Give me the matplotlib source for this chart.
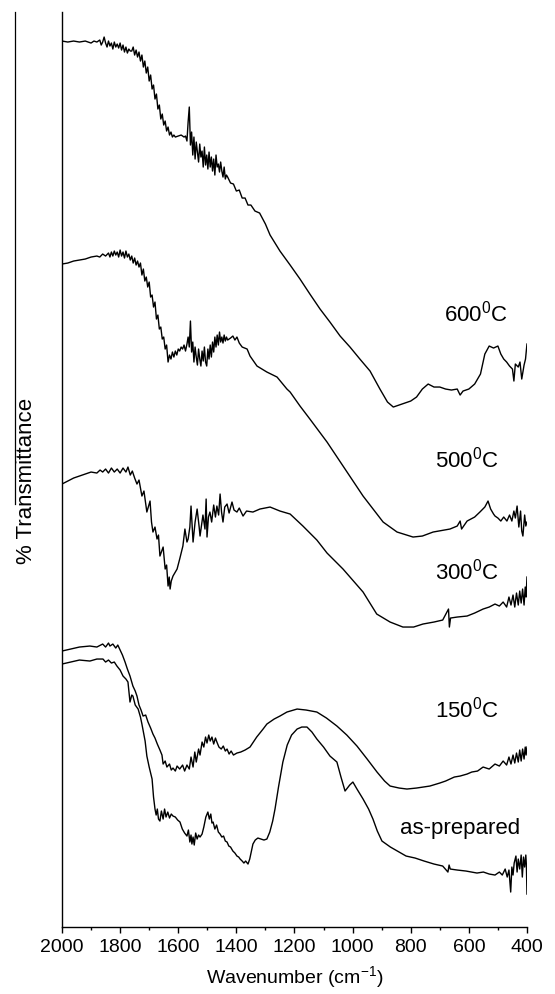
import numpy as np
import matplotlib
matplotlib.use("Agg")
import matplotlib.pyplot as plt
from matplotlib.lines import Line2D

plt.rcParams['font.family'] = ['Liberation Sans', 'DejaVu Sans']
plt.rcParams['mathtext.fontset'] = 'custom'
plt.rcParams['mathtext.rm'] = 'Liberation Sans'
plt.rcParams['mathtext.it'] = 'Liberation Sans'

# FTIR spectra, offset transmittance in arbitrary units
wn_600 = [2000, 1980, 1960, 1940, 1920, 1900, 1890, 1880, 1870, 1865,
          1860, 1855, 1850, 1845, 1840, 1835, 1830, 1825, 1820, 1815,
          1810, 1805, 1800, 1795, 1790, 1785, 1780, 1775, 1770, 1765,
          1760, 1755, 1750, 1745, 1740, 1735, 1730, 1725, 1720, 1715,
          1710, 1705, 1700, 1695, 1690, 1685, 1680, 1675, 1670, 1665,
          1660, 1655, 1650, 1645, 1640, 1635, 1630, 1625, 1620, 1615,
          1610, 1600, 1590, 1580, 1575, 1570, 1566, 1562, 1558, 1554,
          1550, 1546, 1542, 1538, 1534, 1530, 1526, 1522, 1518, 1514,
          1510, 1506, 1502, 1498, 1494, 1490, 1486, 1482, 1478, 1474,
          1470, 1466, 1462, 1458, 1454, 1450, 1446, 1442, 1438, 1434,
          1430, 1420, 1410, 1400, 1390, 1380, 1370, 1360, 1350, 1336,
          1320, 1300, 1284, 1250, 1215, 1181, 1147, 1112, 1078, 1043,
          1009, 975, 940, 906, 880, 860, 840, 820, 800, 780,
          760, 740, 720, 700, 680, 660, 640, 630, 620, 600,
          580, 560, 545, 530, 515, 500, 490, 480, 470, 460,
          450, 445, 440, 430, 424, 418, 410, 405, 400]
t_600 = [886, 885, 886, 885, 886, 884, 886, 885, 887, 882,
         885, 890, 884, 880, 886, 881, 884, 878, 885, 880,
         883, 879, 884, 877, 882, 875, 880, 874, 878, 876,
         876, 880, 872, 877, 870, 875, 866, 872, 860, 866,
         854, 860, 846, 852, 838, 842, 828, 833, 818, 822,
         808, 813, 802, 806, 796, 800, 792, 795, 790, 792,
         790, 791, 792, 790, 791, 786, 805, 820, 782, 795,
         772, 790, 768, 785, 775, 765, 783, 770, 776, 760,
         780, 762, 772, 758, 775, 760, 770, 756, 768, 752,
         772, 760, 763, 755, 765, 756, 750, 760, 748, 752,
         750, 744, 743, 736, 737, 729, 729, 722, 722, 716,
         714, 703, 692, 676, 662, 648, 633, 618, 605, 591,
         580, 568, 556, 538, 525, 520, 522, 524, 526, 530,
         538, 543, 540, 540, 538, 537, 538, 532, 536, 538,
         543, 553, 573, 581, 579, 581, 573, 568, 565, 561,
         558, 546, 563, 560, 565, 548, 562, 568, 583]

wn_500 = [2000, 1980, 1960, 1940, 1920, 1900, 1880, 1870, 1860, 1850,
          1840, 1835, 1830, 1825, 1820, 1815, 1810, 1805, 1800, 1795,
          1790, 1785, 1780, 1775, 1770, 1765, 1760, 1755, 1750, 1745,
          1740, 1735, 1730, 1725, 1720, 1715, 1710, 1705, 1700, 1695,
          1690, 1685, 1680, 1675, 1670, 1665, 1660, 1655, 1650, 1645,
          1640, 1635, 1630, 1625, 1620, 1615, 1610, 1605, 1600, 1595,
          1590, 1585, 1580, 1575, 1570, 1566, 1562, 1558, 1554, 1550,
          1546, 1542, 1538, 1534, 1530, 1526, 1522, 1518, 1514, 1510,
          1506, 1502, 1498, 1494, 1490, 1486, 1482, 1478, 1474, 1470,
          1466, 1462, 1458, 1454, 1450, 1446, 1442, 1438, 1434, 1430,
          1420, 1412, 1405, 1398, 1390, 1380, 1363, 1353, 1329, 1295,
          1260, 1226, 1215, 1181, 1147, 1088, 1019, 964, 895, 847,
          792, 760, 723, 665, 640, 630, 625, 606, 580, 562,
          545, 534, 525, 515, 510, 500, 490, 480, 469, 460,
          452, 445, 440, 434, 428, 422, 418, 414, 408, 404,
          400]
t_500 = [663, 664, 666, 667, 668, 670, 671, 670, 673, 671,
         674, 670, 675, 671, 676, 672, 675, 670, 677, 671,
         675, 669, 676, 670, 673, 667, 671, 664, 669, 662,
         666, 660, 664, 652, 658, 646, 650, 640, 645, 630,
         632, 620, 625, 608, 612, 598, 600, 588, 590, 578,
         582, 565, 572, 568, 575, 570, 576, 572, 578, 576,
         580, 578, 582, 576, 583, 590, 580, 606, 575, 585,
         565, 580, 570, 562, 578, 568, 561, 576, 566, 580,
         565, 561, 578, 568, 582, 570, 585, 575, 590, 580,
         592, 582, 595, 585, 590, 584, 592, 586, 590, 587,
         589, 591, 587, 590, 584, 580, 578, 571, 561, 555,
         550, 538, 535, 521, 508, 485, 455, 431, 405, 395,
         390, 391, 395, 398, 401, 406, 398, 406, 410, 415,
         420, 426, 418, 413, 411, 409, 406, 410, 406, 412,
         406, 416, 409, 421, 400, 416, 396, 391, 412, 401,
         405]

wn_300 = [2000, 1980, 1960, 1940, 1920, 1900, 1880, 1869, 1860, 1850,
          1840, 1830, 1820, 1810, 1800, 1790, 1780, 1773, 1765, 1758,
          1750, 1742, 1735, 1725, 1718, 1708, 1697, 1692, 1687, 1680,
          1673, 1668, 1663, 1652, 1645, 1640, 1635, 1631, 1628, 1624,
          1618, 1604, 1595, 1584, 1577, 1570, 1566, 1560, 1556, 1549,
          1542, 1535, 1528, 1525, 1515, 1508, 1504, 1501, 1496, 1491,
          1485, 1478, 1472, 1467, 1461, 1456, 1451, 1446, 1440, 1432,
          1425, 1415, 1408, 1398, 1390, 1377, 1365, 1343, 1319, 1284,
          1250, 1215, 1171, 1123, 1088, 1033, 964, 917, 871, 827,
          790, 758, 720, 690, 670, 667, 663, 640, 606, 580,
          551, 530, 510, 495, 482, 470, 462, 455, 448, 442,
          436, 430, 425, 420, 415, 410, 406, 403, 400]
t_300 = [443, 446, 449, 451, 453, 455, 454, 457, 455, 458,
         454, 459, 455, 458, 454, 459, 455, 460, 452, 456,
         449, 443, 447, 431, 436, 415, 426, 405, 395, 400,
         388, 392, 371, 380, 358, 362, 341, 350, 338, 346,
         351, 358, 368, 381, 398, 385, 388, 400, 421, 385,
         405, 418, 400, 391, 412, 398, 428, 390, 410, 415,
         405, 422, 410, 421, 412, 433, 415, 405, 420, 423,
         414, 425, 417, 415, 419, 411, 416, 415, 418, 420,
         416, 413, 401, 387, 374, 358, 335, 313, 305, 300,
         300, 303, 305, 307, 318, 300, 309, 310, 311, 314,
         318, 320, 323, 321, 325, 320, 330, 322, 332, 320,
         334, 322, 336, 324, 338, 322, 340, 330, 350]

wn_150 = [2000, 1970, 1940, 1904, 1880, 1860, 1850, 1840, 1835, 1825,
          1815, 1808, 1800, 1792, 1783, 1775, 1766, 1756, 1748, 1742,
          1735, 1728, 1721, 1712, 1704, 1695, 1687, 1680, 1672, 1663,
          1656, 1652, 1645, 1639, 1630, 1624, 1618, 1610, 1604, 1595,
          1585, 1578, 1570, 1562, 1556, 1549, 1543, 1538, 1530, 1525,
          1518, 1512, 1506, 1501, 1495, 1490, 1484, 1478, 1472, 1467,
          1460, 1452, 1445, 1438, 1432, 1425, 1418, 1410, 1398, 1385,
          1370, 1353, 1330, 1308, 1295, 1270, 1250, 1226, 1191, 1160,
          1123, 1090, 1054, 1020, 985, 950, 916, 890, 871, 840,
          813, 780, 734, 700, 680, 665, 650, 630, 606, 590,
          570, 551, 530, 510, 495, 482, 470, 462, 455, 448,
          442, 436, 430, 425, 420, 415, 410, 406, 403, 400]
t_150 = [276, 278, 280, 281, 280, 283, 280, 284, 281, 283,
         279, 282, 277, 272, 265, 258, 251, 241, 236, 231,
         222, 217, 211, 212, 205, 199, 193, 189, 183, 177,
         172, 163, 166, 160, 163, 157, 159, 156, 161, 158,
         162, 156, 162, 158, 170, 160, 175, 165, 178, 172,
         185, 180, 190, 184, 192, 186, 190, 183, 189, 185,
         180, 178, 181, 176, 178, 173, 176, 172, 174, 175,
         177, 180, 190, 198, 203, 208, 211, 215, 218, 217,
         215, 209, 201, 192, 181, 168, 155, 146, 141, 139,
         138, 139, 141, 144, 146, 148, 150, 151, 153, 155,
         156, 160, 158, 163, 161, 166, 162, 170, 163, 172,
         164, 174, 165, 177, 166, 178, 168, 180, 172, 180]

wn_ap = [2000, 1970, 1940, 1904, 1880, 1859, 1850, 1840, 1830, 1820,
         1811, 1800, 1790, 1780, 1773, 1766, 1760, 1756, 1748, 1738,
         1730, 1725, 1719, 1714, 1708, 1700, 1690, 1685, 1680, 1676,
         1672, 1668, 1663, 1658, 1652, 1647, 1642, 1636, 1630, 1624,
         1618, 1610, 1602, 1594, 1586, 1578, 1570, 1565, 1560, 1556,
         1553, 1549, 1545, 1540, 1535, 1530, 1525, 1518, 1512, 1505,
         1498, 1493, 1488, 1484, 1480, 1474, 1468, 1462, 1456, 1450,
         1444, 1438, 1432, 1426, 1420, 1412, 1405, 1398, 1392, 1387,
         1380, 1374, 1368, 1360, 1354, 1348, 1343, 1335, 1326, 1315,
         1305, 1295, 1285, 1275, 1267, 1255, 1240, 1225, 1210, 1191,
         1175, 1157, 1140, 1123, 1100, 1078, 1054, 1040, 1026, 1010,
         999, 985, 964, 945, 930, 915, 899, 870, 840, 816,
         785, 754, 720, 690, 672, 668, 664, 640, 610, 590,
         572, 550, 530, 510, 495, 485, 475, 468, 462, 456,
         452, 448, 444, 438, 434, 430, 425, 420, 416, 412,
         408, 404, 402, 400]
t_ap = [263, 265, 267, 266, 268, 268, 265, 267, 264, 265,
        261, 257, 251, 248, 245, 225, 232, 231, 222, 218,
        210, 203, 194, 186, 171, 160, 148, 130, 118, 112,
        118, 108, 106, 116, 108, 118, 110, 115, 109, 113,
        111, 110, 107, 105, 98, 94, 91, 97, 85, 92,
        83, 90, 82, 94, 88, 92, 90, 93, 100, 110,
        115, 108, 113, 104, 105, 98, 102, 95, 93, 90,
        91, 86, 85, 81, 80, 76, 74, 71, 70, 68,
        66, 64, 66, 63, 68, 76, 83, 87, 89, 88,
        87, 88, 95, 106, 118, 140, 165, 182, 192, 198,
        200, 200, 195, 188, 180, 171, 165, 150, 136, 142,
        145, 138, 128, 118, 108, 96, 86, 80, 75, 71,
        69, 66, 63, 61, 55, 62, 58, 57, 56, 55,
        54, 55, 53, 52, 55, 52, 58, 50, 57, 35,
        60, 52, 64, 71, 55, 68, 58, 72, 50, 70,
        60, 72, 62, 33]

labels = ['600$^{\\mathrm{0}}$C', '500$^{\\mathrm{0}}$C', '300$^{\\mathrm{0}}$C',
          '150$^{\\mathrm{0}}$C', 'as-prepared']
label_wn = [575, 606, 606, 606, 631]
label_t = [614, 468, 356, 218, 100]

fig = plt.figure(figsize=(5.55, 9.95), dpi=100)
ax = fig.add_axes([0.1117, 0.0673, 0.8378, 0.9196])

for wn, t in [(wn_600, t_600), (wn_500, t_500), (wn_300, t_300), (wn_150, t_150), (wn_ap, t_ap)]:
    ax.plot(wn, t, color='black', lw=1.0)

for lab, x, y in zip(labels, label_wn, label_t):
    ax.text(x, y, lab, fontsize=16, ha='center', va='center')

ax.set_xlim(2000, 400)
ax.set_ylim(0, 915)

ax.spines['top'].set_visible(False)
ax.spines['right'].set_visible(False)
ax.spines['left'].set_linewidth(1.0)
ax.spines['bottom'].set_linewidth(1.0)
ax.set_yticks([])
ax.set_xticks(np.arange(2000, 399, -200))
ax.set_xticks(np.arange(1900, 400, -200), minor=True)
ax.tick_params(axis='x', which='major', direction='out', length=4, width=1.0, labelsize=14, pad=4)
ax.tick_params(axis='x', which='minor', direction='out', length=2.5, width=1.0)
ax.set_xlabel('Wavenumber (cm$^{\\mathrm{-1}}$)', fontsize=14, labelpad=6)

fig.text(27 / 555, 1 - 481 / 995, '% Transmittance', rotation=90, fontsize=16,
         ha='center', va='center')
fig.add_artist(Line2D([15 / 555, 15 / 555], [1 - 13 / 995, 1 - 505 / 995],
                      color='black', lw=0.9))

fig.savefig('out.png', dpi=100)
